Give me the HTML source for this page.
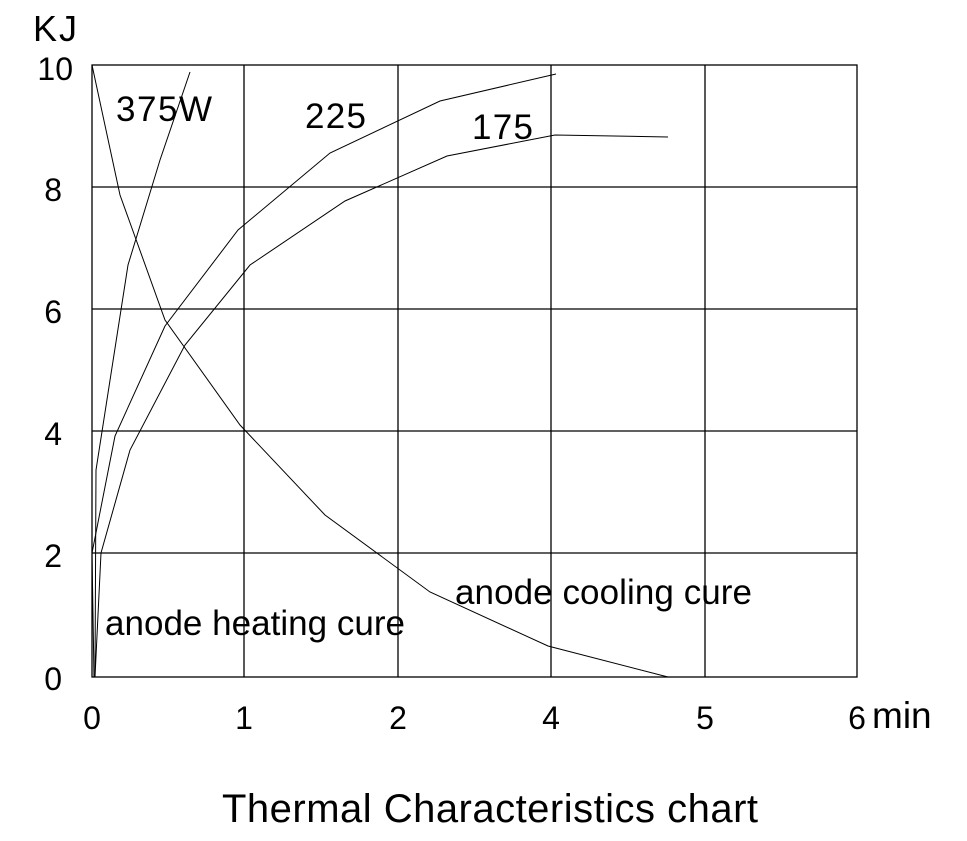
<!DOCTYPE html>
<html><head><style>body{margin:0;background:#fff}svg{display:block}</style></head>
<body>
<svg width="967" height="841" xmlns="http://www.w3.org/2000/svg" font-family="Liberation Sans, Arial, sans-serif">
<rect width="967" height="841" fill="#fff"/>
<g stroke="#000" stroke-width="1.3" fill="none">
<rect x="92" y="65" width="765" height="612"/>
<line x1="244" y1="65" x2="244" y2="677"/>
<line x1="398" y1="65" x2="398" y2="677"/>
<line x1="551" y1="65" x2="551" y2="677"/>
<line x1="705" y1="65" x2="705" y2="677"/>
<line x1="92" y1="187" x2="857" y2="187"/>
<line x1="92" y1="309" x2="857" y2="309"/>
<line x1="92" y1="431" x2="857" y2="431"/>
<line x1="92" y1="553" x2="857" y2="553"/>
</g>
<g stroke="#000" stroke-width="1" fill="none">
<polyline points="95,677 96,470 128,265 160,160 190,72"/>
<polyline points="94,677 92,553 115,436 165,326 238,230 330,153 440,101 556,74"/>
<polyline points="95,677 101,553 130,450 185,345 250,265 345,201 447,156 555,135 668,137"/>
<polyline points="92,65 120,195 165,320 240,425 325,515 430,592 548,646 668,677"/>
</g>
<g font-size="32" fill="#000">
<text x="33" y="41" font-size="36" textLength="44">KJ</text>
<text x="73" y="80" text-anchor="end">10</text>
<text x="62" y="201" text-anchor="end">8</text>
<text x="62" y="323" text-anchor="end">6</text>
<text x="62" y="445" text-anchor="end">4</text>
<text x="62" y="567" text-anchor="end">2</text>
<text x="62" y="690" text-anchor="end">0</text>
<text x="92" y="729" text-anchor="middle">0</text>
<text x="244" y="729" text-anchor="middle">1</text>
<text x="398" y="729" text-anchor="middle">2</text>
<text x="551" y="729" text-anchor="middle">4</text>
<text x="705" y="729" text-anchor="middle">5</text>
<text x="857" y="729" text-anchor="middle">6</text>
</g>
<g font-size="35" fill="#000">
<text x="872" y="728" font-size="37">min</text>
<text x="116" y="121" textLength="96">375W</text>
<text x="305" y="128" textLength="61">225</text>
<text x="472" y="139" textLength="61">175</text>
<text x="455" y="604" textLength="297">anode cooling cure</text>
<text x="105" y="635" textLength="300">anode heating cure</text>
</g>
<text x="222" y="822" font-size="40" textLength="536">Thermal Characteristics chart</text>
</svg>
</body></html>
